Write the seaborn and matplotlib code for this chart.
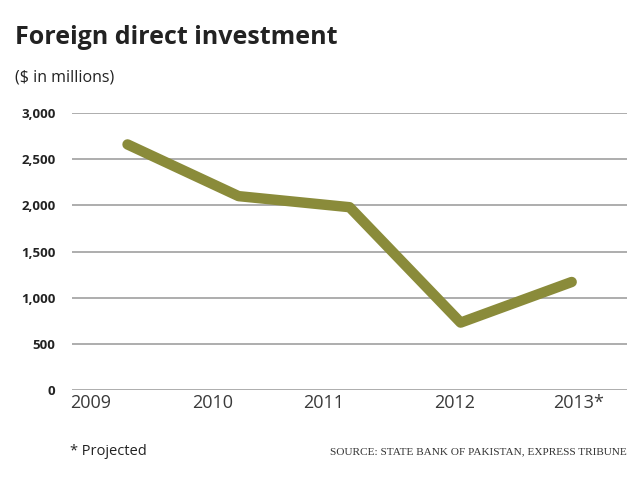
import pandas as pd
import numpy as np
import seaborn as sns
import matplotlib.pyplot as plt

years = ['2009', '2010', '2011', '2012', '2013*']
fdi = [2660, 2100, 1980, 730, 1170]
yticks = [0, 500, 1000, 1500, 2000, 2500, 3000]

df = pd.DataFrame({'pos': np.arange(len(years)), 'fdi': fdi})

sns.set_style('white')
plt.rcParams['font.family'] = ['Open Sans', 'DejaVu Sans']

fig = plt.figure(figsize=(6.4, 4.8), dpi=100)
ax = fig.add_axes([0.1125, 0.1875, 0.8675, 0.577])

for t in yticks:
    ax.axhline(t, color='#a0a0a0', lw=1.2, zorder=1)

sns.lineplot(data=df, x='pos', y='fdi', ax=ax, color='#8a8b3a', lw=7.5,
             solid_capstyle='round', solid_joinstyle='round', zorder=3)

ax.set_xlim(-0.5, 4.5)
ax.set_ylim(0, 3000)
ax.set_yticks(yticks)
ax.set_yticklabels([f'{t:,}' for t in yticks], fontsize=9.5, fontweight='bold', color='#222222')
# year labels sit slightly off the data positions in the original
ax.set_xticks([-0.33, 0.77, 1.77, 2.95, 4.06])
ax.set_xticklabels(years, fontsize=13, color='#3a3a3a')
ax.tick_params(axis='y', length=0, pad=12)
ax.tick_params(axis='x', length=0, pad=3)
ax.set_xlabel('')
ax.set_ylabel('')
sns.despine(ax=ax, left=True, bottom=True, top=True, right=True)

fig.text(0.023, 0.922, 'Foreign direct investment', fontsize=18, fontweight='bold',
         color='#222222', va='center')
fig.text(0.023, 0.838, '($ in millions)', fontsize=11.5, color='#222222', va='center')
fig.text(0.11, 0.06, '* Projected', fontsize=10.5, color='#222222', va='center')
fig.text(0.98, 0.058, 'SOURCE: STATE BANK OF PAKISTAN, EXPRESS TRIBUNE', fontsize=8.1,
         family='Liberation Serif', color='#333333', ha='right', va='center')

fig.savefig('out.png', dpi=100)
